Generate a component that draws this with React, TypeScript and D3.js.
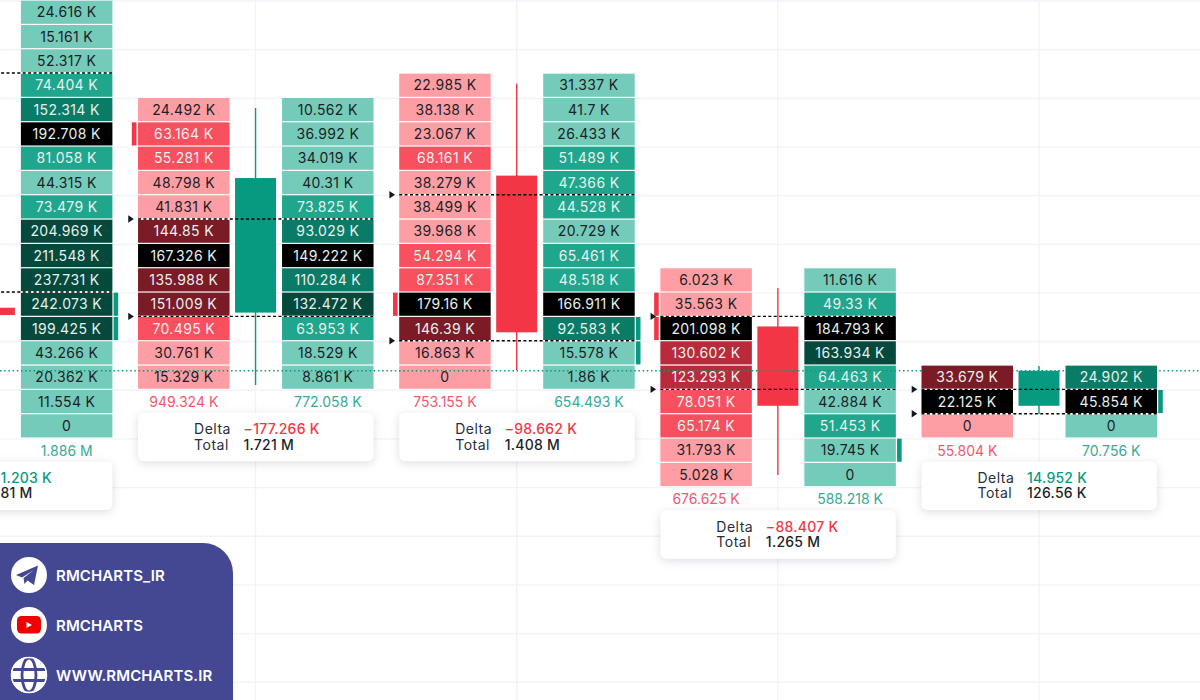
import React from "react";
import * as d3 from "d3";

const WIDTH = 1200;
const HEIGHT = 700;
const FONT = "Inter, 'Noto Sans', sans-serif";

// price is measured in footprint rows, 0 being the row cut by the top of the picture
const sellVolumes: number[][] = [
  [],
  [24.492, 63.164, 55.281, 48.798, 41.831, 144.85, 167.326, 135.988, 151.009, 70.495, 30.761, 15.329],
  [22.985, 38.138, 23.067, 68.161, 38.279, 38.499, 39.968, 54.294, 87.351, 179.16, 146.39, 16.863, 0],
  [6.023, 35.563, 201.098, 130.602, 123.293, 78.051, 65.174, 31.793, 5.028],
  [33.679, 22.125, 0],
];
const buyVolumes: number[][] = [
  [24.616, 15.161, 52.317, 74.404, 152.314, 192.708, 81.058, 44.315, 73.479, 204.969, 211.548, 237.731, 242.073, 199.425, 43.266, 20.362, 11.554, 0],
  [10.562, 36.992, 34.019, 40.31, 73.825, 93.029, 149.222, 110.284, 132.472, 63.953, 18.529, 8.861],
  [31.337, 41.7, 26.433, 51.489, 47.366, 44.528, 20.729, 65.461, 48.518, 166.911, 92.583, 15.578, 1.86],
  [11.616, 49.33, 184.793, 163.934, 64.463, 42.884, 51.453, 19.745, 0],
  [24.902, 45.854, 0],
];
const firstRows = [0, 4, 3, 11, 15];
const pocRows = [5, 10, 12, 13, 16];
const valueAreaRows = [[3, 12], [9, 13], [8, 14], [13, 16], [16, 17]];
const sellStacked = [[], [5], [12], [12, 13], []];
const buyStacked = [[12, 13], [], [13, 14], [18], [16]];

const sellTotals = [null, 949.324, 753.155, 676.625, 55.804];
const buyTotals = [1886, 772.058, 654.493, 588.218, 70.756];
const deltas = [591.203, -177.266, -98.662, -88.407, 14.952];
const totals = [3181, 1721, 1408, 1265, 126.56];

const opens = [12.62, 12.82, 7.19, 13.39, 16.65];
const closes = [12.92, 7.29, 13.63, 16.65, 15.21];
const highs = [12.62, 4.41, 3.4, 11.81, 15.01];
const lows = [12.92, 15.8, 15.18, 19.49, 16.99];

const gridRows = d3.range(0, 30, 2);
const links = ["RMCHARTS_IR", "RMCHARTS", "WWW.RMCHARTS.IR"];

const UP = "#089981";
const DOWN = "#f23645";
const LIGHT_BELOW = 0.25;
const redShade = d3
  .scaleThreshold<number, string>()
  .domain([LIGHT_BELOW, 0.5, 0.7])
  .range(["#fd9ea5", "#f8505f", "#b92a3a", "#7a1b25"]);
const greenShade = d3
  .scaleThreshold<number, string>()
  .domain([LIGHT_BELOW, 0.5, 0.8])
  .range(["#74cbb9", "#20a68c", "#0a7b66", "#04493c"]);

const formatVolume = (v: number) => {
  if (v === 0) return "0";
  const abs = Math.abs(v);
  const text = abs >= 1000 ? `${+(abs / 1000).toFixed(3)} M` : `${abs} K`;
  return (v < 0 ? "\u2212" : "") + text;
};

const App = () => {
  const ref = React.useRef<SVGSVGElement>(null);

  React.useEffect(() => {
    const svg = d3.select(ref.current!);
    svg.selectAll("*").remove();

    const rowY = d3.scaleLinear().domain([4, 17]).range([98, 414.3]);
    const barX = d3.scaleLinear().domain([0, 4]).range([-5.6, 1039]);
    const rowH = rowY(1) - rowY(0);
    const bars = d3.range(buyVolumes.length);

    const cellW = 91.5;
    const sellX = (b: number) => barX(b) - 117.5;
    const buyX = (b: number) => barX(b) + 26.5;

    const grid = svg.append("g").attr("stroke", "#f0f3f8").attr("stroke-width", 1.3);
    grid
      .selectAll("line.h")
      .data(gridRows)
      .join("line")
      .attr("class", "h")
      .attr("x1", 0)
      .attr("x2", WIDTH)
      .attr("y1", (d) => rowY(d) + 0.3)
      .attr("y2", (d) => rowY(d) + 0.3);
    grid
      .selectAll("line.v")
      .data(bars.slice(1))
      .join("line")
      .attr("class", "v")
      .attr("x1", (d) => barX(d))
      .attr("x2", (d) => barX(d))
      .attr("y1", 0)
      .attr("y2", HEIGHT);

    const drawColumn = (
      b: number,
      values: number[],
      x: number,
      shade: d3.ScaleThreshold<number, string>,
    ) => {
      const [min, max] = d3.extent(values) as [number, number];
      const weight = d3.scaleLinear().domain([min, max]);
      const g = svg.append("g");
      const rows = g
        .selectAll("g")
        .data(values)
        .join("g")
        .attr("transform", (_, i) => `translate(${x}, ${rowY(firstRows[b] + i)})`);
      const isPoc = (i: number) => firstRows[b] + i === pocRows[b];
      rows
        .append("rect")
        .attr("width", cellW)
        .attr("height", rowH - 1.2)
        .attr("fill", (v, i) => (isPoc(i) ? "#000000" : shade(weight(v))));
      rows
        .append("text")
        .attr("x", cellW / 2)
        .attr("y", rowH / 2 - 0.9)
        .attr("text-anchor", "middle")
        .attr("dominant-baseline", "central")
        .attr("font-family", FONT)
        .attr("font-size", 14)
        .attr("letter-spacing", 0.35)
        .attr("fill", (v, i) => (isPoc(i) || weight(v) >= LIGHT_BELOW ? "#e6f0ee" : "#1c1f26"))
        .text((v) => formatVolume(v));
    };

    const drawStacked = (rows: number[], x: number, color: string) => {
      svg
        .append("g")
        .selectAll("rect")
        .data(rows)
        .join("rect")
        .attr("x", x)
        .attr("y", (d) => rowY(d))
        .attr("width", 4.6)
        .attr("height", rowH - 1.2)
        .attr("fill", color);
    };

    const lastPrice = closes[closes.length - 1];

    const drawBar = (b: number) => {
      drawColumn(b, sellVolumes[b], sellX(b), redShade);
      drawColumn(b, buyVolumes[b], buyX(b), greenShade);
      drawStacked(sellStacked[b], sellX(b) - 6.2, DOWN);
      drawStacked(buyStacked[b], buyX(b) + cellW + 1.2, UP);

      const up = closes[b] < opens[b];
      const color = up ? UP : DOWN;
      svg
        .append("line")
        .attr("x1", barX(b))
        .attr("x2", barX(b))
        .attr("y1", rowY(highs[b]))
        .attr("y2", rowY(lows[b]))
        .attr("stroke", color)
        .attr("stroke-width", 1.4);
      svg
        .append("rect")
        .attr("x", barX(b) - 20.5)
        .attr("width", 41)
        .attr("y", rowY(Math.min(opens[b], closes[b])))
        .attr("height", Math.abs(rowY(opens[b]) - rowY(closes[b])))
        .attr("fill", color);
    };

    const drawValueArea = (b: number) => {
      const sellEnd = sellX(b) + cellW;
      const g = svg.append("g");
      valueAreaRows[b].forEach((row) => {
        const y = rowY(row) - 0.6;
        const white = [
          [sellX(b), sellEnd],
          [buyX(b), buyX(b) + cellW],
        ];
        if (sellVolumes[b].length === 0) white.shift();
        white.forEach(([x1, x2]) => {
          g.append("line")
            .attr("x1", x1)
            .attr("x2", x2)
            .attr("y1", y)
            .attr("y2", y)
            .attr("stroke", "#ffffff")
            .attr("stroke-width", 1.4);
        });
        g.append("line")
          .attr("x1", sellX(b))
          .attr("x2", buyX(b) + cellW)
          .attr("y1", y)
          .attr("y2", y)
          .attr("stroke", "#000000")
          .attr("stroke-width", 1.4)
          .attr("stroke-dasharray", "3 2.4");
        const tip = d3.path();
        tip.moveTo(sellX(b) - 9.8, y - 3.7);
        tip.lineTo(sellX(b) - 4.2, y);
        tip.lineTo(sellX(b) - 9.8, y + 3.7);
        tip.closePath();
        g.append("path").attr("d", tip.toString()).attr("fill", "#131722");
      });
    };

    const drawSummary = (b: number) => {
      const footRow = firstRows[b] + buyVolumes[b].length;
      const footY = rowY(footRow) + rowH / 2 - 0.3;
      const g = svg.append("g").attr("font-family", FONT);
      const foot = (x: number, total: number | null, color: string) => {
        if (total === null) return;
        g.append("text")
          .attr("x", x + cellW / 2)
          .attr("y", footY - 0.4)
          .attr("text-anchor", "middle")
          .attr("dominant-baseline", "central")
          .attr("font-size", 14)
          .attr("fill", color)
          .text(formatVolume(total));
      };
      foot(sellX(b), sellTotals[b], "#ef5a70");
      foot(buyX(b), buyTotals[b], "#35ab95");

      const boxY = footY + 11;
      g.append("rect")
        .attr("x", sellX(b))
        .attr("y", boxY)
        .attr("width", buyX(b) + cellW - sellX(b))
        .attr("height", 48.5)
        .attr("rx", 6)
        .attr("fill", "#ffffff")
        .style("filter", "drop-shadow(0 2px 5px rgba(40,50,80,0.16))");

      const label = (
        text: string,
        dy: number,
        x: number,
        color: string,
        weight: number,
        spacing: number,
      ) =>
        g
          .append("text")
          .attr("x", x)
          .attr("y", boxY + dy)
          .attr("dominant-baseline", "central")
          .attr("font-size", 14)
          .attr("font-weight", weight)
          .attr("letter-spacing", spacing)
          .attr("fill", color)
          .text(text);
      label("Delta", 16, sellX(b) + 56, "#2a2e39", 400, 0.5);
      label("Total", 31.5, sellX(b) + 56, "#2a2e39", 400, 0.5);
      label(formatVolume(deltas[b]), 16, sellX(b) + 105.5, deltas[b] < 0 ? DOWN : UP, 500, 0.25);
      label(formatVolume(totals[b]), 31.5, sellX(b) + 105.5, "#1c1f26", 500, 0.25);
    };

    bars.slice(0, 4).forEach(drawBar);
    svg
      .append("line")
      .attr("x1", 0)
      .attr("x2", WIDTH)
      .attr("y1", rowY(lastPrice))
      .attr("y2", rowY(lastPrice))
      .attr("stroke", UP)
      .attr("stroke-width", 1.4)
      .attr("stroke-dasharray", "1.5 2.7");
    drawBar(4);
    bars.forEach(drawValueArea);
    bars.forEach(drawSummary);

    // contact panel
    const panel = svg.append("g").attr("font-family", FONT);
    const panelPath = d3.path();
    panelPath.moveTo(0, 543);
    panelPath.lineTo(203, 543);
    panelPath.arcTo(233, 543, 233, 573, 30);
    panelPath.lineTo(233, HEIGHT);
    panelPath.lineTo(0, HEIGHT);
    panelPath.closePath();
    panel.append("path").attr("d", panelPath.toString()).attr("fill", "#444791");

    const linkY = d3.scalePoint<string>().domain(links).range([575, 675]);
    const icons = panel
      .selectAll("g")
      .data(links)
      .join("g")
      .attr("transform", (d) => `translate(29, ${linkY(d)})`);
    icons.append("circle").attr("r", 18).attr("fill", "#ffffff");
    icons
      .append("text")
      .attr("x", 27)
      .attr("dominant-baseline", "central")
      .attr("font-size", 15)
      .attr("font-weight", 600)
      .attr("letter-spacing", 0.1)
      .attr("fill", "#ffffff")
      .text((d) => d);

    icons
      .filter((_, i) => i === 0)
      .append("path")
      .attr("d", "M-13 0 L9 -9.5 L5 10 L-1.5 5.5 L-4.5 9 L-5.5 3 L5 -5 L-7 2.5 Z")
      .attr("fill", "#444791");

    const yt = icons.filter((_, i) => i === 1);
    yt.append("rect")
      .attr("x", -12)
      .attr("y", -9)
      .attr("width", 24)
      .attr("height", 17.5)
      .attr("rx", 4.5)
      .attr("fill", "#f00000");
    yt.append("path").attr("d", "M-2.5 -3 L3 0 L-2.5 3 Z").attr("fill", "#ffffff");

    const globe = icons.filter((_, i) => i === 2);
    globe
      .append("ellipse")
      .attr("rx", 7)
      .attr("ry", 17)
      .attr("fill", "none")
      .attr("stroke", "#444791")
      .attr("stroke-width", 2.8);
    [-5.5, 5.5].forEach((dy) => {
      globe
        .append("line")
        .attr("x1", -17)
        .attr("x2", 17)
        .attr("y1", dy)
        .attr("y2", dy)
        .attr("stroke", "#444791")
        .attr("stroke-width", 2.8);
    });
    globe
      .append("circle")
      .attr("r", 17.5)
      .attr("fill", "none")
      .attr("stroke", "#ffffff")
      .attr("stroke-width", 1.5);
  }, []);

  return (
    <svg
      ref={ref}
      width={WIDTH}
      height={HEIGHT}
      style={{ position: "absolute", left: 0, top: 0, display: "block", background: "#ffffff" }}
    />
  );
};

export default App;
